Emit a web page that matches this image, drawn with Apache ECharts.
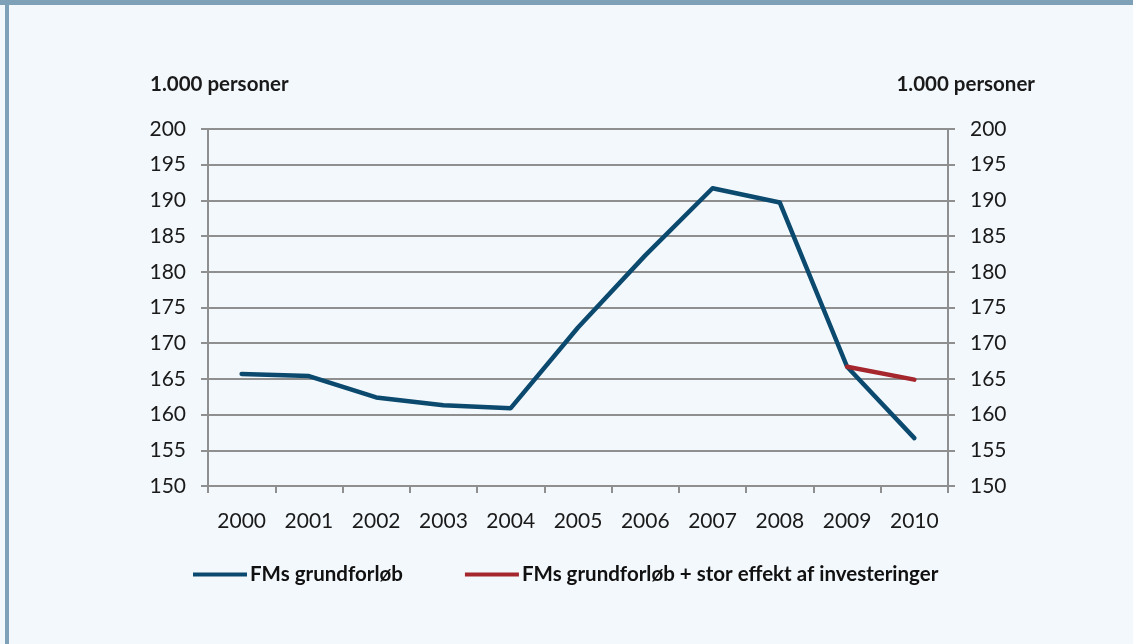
<!DOCTYPE html>
<html>
<head>
<meta charset="utf-8">
<script src="https://cdn.jsdelivr.net/npm/echarts@6/dist/echarts.min.js"></script>
<style>
  html, body { margin: 0; padding: 0; background: #f3f8fc; }
  #chart { width: 1133px; height: 644px; }
</style>
</head>
<body>
<div id="chart"></div>
<script>
  // år
  const years = ['2000', '2001', '2002', '2003', '2004', '2005', '2006', '2007', '2008', '2009', '2010']
  // FMs grundforløb, 1.000 personer
  const grundforloeb = [165.7, 165.4, 162.4, 161.3, 160.9, 172.2, 182.3, 191.7, 189.7, 166.7, 156.7]
  // FMs grundforløb + stor effekt af investeringer (kun 2009-2010)
  const medInvesteringer = [null, null, null, null, null, null, null, null, null, 166.7, 164.9]
  const seriesNames = ['FMs grundforløb', 'FMs grundforløb + stor effekt af investeringer']
  const yMin = 150, yMax = 200, yStep = 5

  const font = 'Lato, "Noto Sans", sans-serif'
  const gridColor = '#8f8f8f'
  const frameColor = '#7fa1b7'

  const myChart = echarts.init(document.getElementById('chart'))

  const yAxisBase = {
    type: 'value',
    min: yMin,
    max: yMax,
    interval: yStep,
    axisLine: { show: true, lineStyle: { color: gridColor, width: 2 } },
    axisTick: { show: true, inside: false, length: 7, lineStyle: { color: gridColor, width: 2 } },
    axisLabel: { color: '#1a1a1a', fontSize: 21, fontFamily: font, margin: 22 }
  }

  const option = {
    backgroundColor: '#f3f8fc',
    animation: false,
    grid: { left: 208, right: 185, top: 129, bottom: 158 },
    graphic: [
      // ramme øverst og til venstre
      { type: 'rect', left: 0, top: 0, shape: { width: 1133, height: 5 }, style: { fill: frameColor } },
      { type: 'rect', left: 5, top: 0, shape: { width: 4, height: 644 }, style: { fill: frameColor } },
      { type: 'text', left: 150, top: 74, style: { text: '1.000 personer', font: 'bold 20.5px ' + font, fill: '#1a1a1a' } },
      { type: 'text', right: 98, top: 74, style: { text: '1.000 personer', font: 'bold 20.5px ' + font, fill: '#1a1a1a' } }
    ],
    legend: {
      left: 193,
      top: 564,
      padding: 0,
      icon: 'rect',
      itemWidth: 54,
      itemHeight: 4,
      itemGap: 62,
      data: seriesNames,
      textStyle: { color: '#111', fontSize: 20.5, fontWeight: 'bold', fontFamily: font, padding: [0, 0, 0, -2] }
    },
    xAxis: {
      type: 'category',
      data: years,
      boundaryGap: true,
      axisLine: { lineStyle: { color: gridColor, width: 2 } },
      axisTick: { show: true, length: 7, lineStyle: { color: gridColor, width: 2 } },
      axisLabel: { color: '#1a1a1a', fontSize: 21, fontFamily: font, margin: 25 }
    },
    yAxis: [
      Object.assign({}, yAxisBase, {
        position: 'left',
        splitLine: { show: true, lineStyle: { color: gridColor, width: 2 } }
      }),
      Object.assign({}, yAxisBase, {
        position: 'right',
        splitLine: { show: false }
      })
    ],
    series: [
      {
        name: seriesNames[0],
        type: 'line',
        data: grundforloeb,
        showSymbol: false,
        symbol: 'none',
        color: '#0b4a6e',
        lineStyle: { width: 4.5, color: '#0b4a6e', cap: 'round', join: 'round' }
      },
      {
        name: seriesNames[1],
        type: 'line',
        data: medInvesteringer,
        showSymbol: false,
        symbol: 'none',
        color: '#a5262c',
        lineStyle: { width: 4.5, color: '#a5262c', cap: 'round', join: 'round' }
      }
    ]
  }

  myChart.setOption(option)
</script>
</body>
</html>
